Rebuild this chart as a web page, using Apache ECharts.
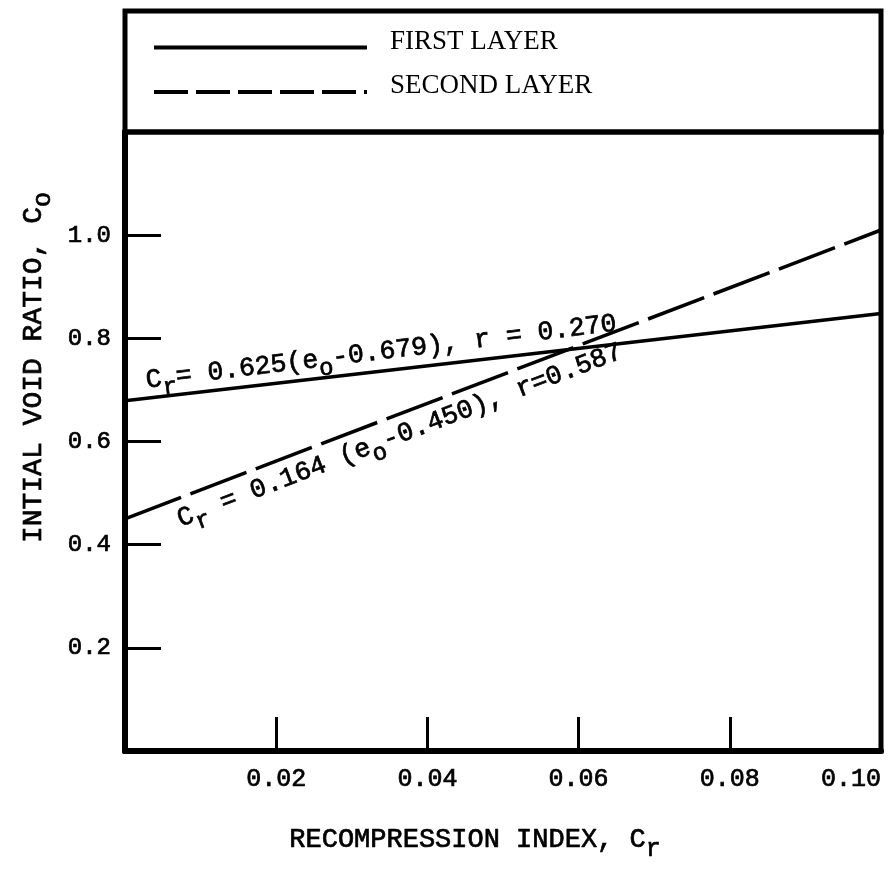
<!DOCTYPE html>
<html>
<head>
<meta charset="utf-8">
<script src="https://cdn.jsdelivr.net/npm/echarts@6/dist/echarts.min.js"></script>
<style>
  html, body { margin: 0; padding: 0; background: #ffffff; }
  #chart { width: 893px; height: 873px; }
</style>
</head>
<body>
<div id="chart"></div>
<script>
// Layer names (legend entries)
const layerNames = ['FIRST LAYER', 'SECOND LAYER'];
// Recompression index at the two ends of each fitted line
const crEnds = [0, 0.10];
// Initial void ratio along each regression line
const firstLayerVoid = [0.679, 0.848];
const secondLayerVoid = [0.450, 1.010];
// Axis ranges and tick steps
const xRange = [0, 0.10];
const xStep = 0.02;
const yRange = [0, 1.2];
const yStep = 0.2;
// Regression equations written along the lines
const firstEquation = '{n|C}{s|r}{n|= 0.625(e}{s|o}{n|-0.679), r = 0.270}';
const secondEquation = '{n|C}{s|r}{n| = 0.164 (e}{s|o}{n|-0.450), r=0.587}';

const MONO = '"Liberation Mono", "DejaVu Sans Mono", monospace';
const SERIF = '"Liberation Serif", "DejaVu Serif", serif';
const INK = '#000000';
// a thin outline gives the typewriter glyphs a little more weight
const INKED = 0.7;

const chart = echarts.init(document.getElementById('chart'), null, { renderer: 'canvas' });

function pairs(xs, ys) { return xs.map((x, i) => [x, ys[i]]); }

function ecRich(size, subSize, drop) {
  const base = { fontFamily: MONO, color: INK, textBorderColor: INK, textBorderWidth: INKED, verticalAlign: 'top', lineHeight: size + 2 };
  return {
    n: Object.assign({}, base, { fontSize: size }),
    s: Object.assign({}, base, { fontSize: subSize, padding: [drop, 0, 0, 0] })
  };
}

const option = {
  animation: false,
  backgroundColor: '#ffffff',
  grid: {
    left: 125, right: 12, top: 132, bottom: 122,
    show: true, borderColor: INK, borderWidth: 5, backgroundColor: 'transparent'
  },
  legend: {
    orient: 'vertical',
    left: 152, top: 28, padding: 0,
    itemWidth: 213, itemHeight: 14, itemGap: 10,
    itemStyle: { opacity: 0 },
    lineStyle: { width: 4, color: INK },
    // the empty second line lifts each name a little above its sample line
    formatter: name => '{t|' + name + '}\n{g| }',
    textStyle: {
      color: INK,
      rich: {
        t: { fontFamily: SERIF, fontSize: 27, color: INK, lineHeight: 28, padding: [0, 0, 0, 18] },
        g: { fontSize: 2, lineHeight: 12 }
      }
    },
    data: [
      { name: layerNames[0] },
      { name: layerNames[1], lineStyle: { type: [34, 8], width: 4 } }
    ]
  },
  xAxis: {
    type: 'value',
    min: xRange[0], max: xRange[1], interval: xStep,
    name: '{n|RECOMPRESSION INDEX, C}{s|r}',
    nameLocation: 'middle', nameGap: 75,
    nameTextStyle: { padding: [0, 56, 0, 0], rich: ecRich(27, 25, 11) },
    axisLine: { lineStyle: { color: INK, width: 6 } },
    axisTick: { inside: true, length: 34, lineStyle: { color: INK, width: 3 } },
    axisLabel: {
      color: INK, fontFamily: MONO, fontSize: 25, margin: 16,
      textBorderColor: INK, textBorderWidth: INKED,
      alignMaxLabel: 'right',
      formatter: v => (v === 0 ? '' : v.toFixed(2))
    },
    splitLine: { show: false }
  },
  yAxis: {
    type: 'value',
    min: yRange[0], max: yRange[1], interval: yStep,
    name: '{n|INTIAL VOID RATIO, C}{s|o}',
    nameLocation: 'middle', nameRotate: 90, nameGap: 75,
    nameTextStyle: { padding: [0, 0, 0, 148], rich: ecRich(28, 25, 11) },
    axisLine: { lineStyle: { color: INK, width: 6 } },
    axisTick: { inside: true, length: 36, lineStyle: { color: INK, width: 3 } },
    axisLabel: {
      color: INK, fontFamily: MONO, fontSize: 24, margin: 14,
      textBorderColor: INK, textBorderWidth: INKED,
      padding: [0, 0, 10, 0],
      formatter: v => (v === 0 || v > 1.1 ? '' : v.toFixed(1))
    },
    splitLine: { show: false }
  },
  series: [
    {
      name: layerNames[0], type: 'line', symbol: 'none',
      data: pairs(crEnds, firstLayerVoid),
      lineStyle: { color: INK, width: 3.5, type: 'solid' },
      itemStyle: { color: INK }
    },
    {
      name: layerNames[1], type: 'line', symbol: 'none',
      data: pairs(crEnds, secondLayerVoid),
      lineStyle: { color: INK, width: 3.5, type: [60, 10] },
      itemStyle: { color: INK }
    }
  ]
};

chart.setOption(option);

// Legend frame above the plot, and the equations written along each line
function px(x, y) { return chart.convertToPixel({ gridIndex: 0 }, [x, y]); }

function angleOf(ys) {
  const a = px(crEnds[0], ys[0]);
  const b = px(crEnds[1], ys[1]);
  return Math.atan2(a[1] - b[1], b[0] - a[0]);
}

const zBase = { fontFamily: MONO, fill: INK, stroke: INK, lineWidth: INKED, verticalAlign: 'top', lineHeight: 28 };
const zRich = {
  n: Object.assign({}, zBase, { fontSize: 26.5 }),
  s: Object.assign({}, zBase, { fontSize: 24, padding: [11, 0, 0, 0] })
};

const topLeft = px(xRange[0], yRange[1]);
const topRight = px(xRange[1], yRange[1]);
const frameTop = 11;

const eq1At = px(0.003, 0.690);
const eq2At = px(0.0064, 0.472);

chart.setOption({
  graphic: [
    {
      type: 'rect', silent: true,
      shape: { x: topLeft[0], y: frameTop, width: topRight[0] - topLeft[0], height: topLeft[1] - frameTop },
      style: { fill: 'none', stroke: INK, lineWidth: 5 }
    },
    {
      type: 'text', silent: true,
      x: eq1At[0], y: eq1At[1], rotation: angleOf(firstLayerVoid) + 0.006,
      style: { text: firstEquation, align: 'left', verticalAlign: 'bottom', rich: zRich }
    },
    {
      type: 'text', silent: true,
      x: eq2At[0], y: eq2At[1], rotation: angleOf(secondLayerVoid),
      style: { text: secondEquation, align: 'left', verticalAlign: 'top', rich: zRich }
    }
  ]
});
</script>
</body>
</html>
